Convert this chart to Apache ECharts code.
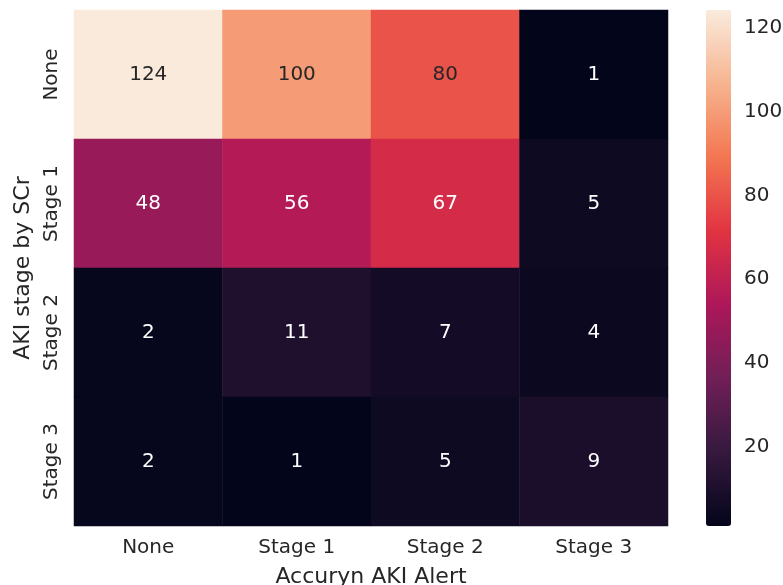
<!DOCTYPE html>
<html><head><meta charset="utf-8">
<script src="https://cdn.jsdelivr.net/npm/echarts@6/dist/echarts.min.js"></script>
<style>html,body{margin:0;padding:0;background:#fff}#c{width:783px;height:585px}</style>
</head><body><div id="c"></div>
<script>
const xCategories = ['None', 'Stage 1', 'Stage 2', 'Stage 3'];
const yCategories = ['None', 'Stage 1', 'Stage 2', 'Stage 3'];
const rowNone = [124, 100, 80, 1];
const rowStage1 = [48, 56, 67, 5];
const rowStage2 = [2, 11, 7, 4];
const rowStage3 = [2, 1, 5, 9];
const colorbarTicks = [20, 40, 60, 80, 100, 120];
const xTitle = 'Accuryn AKI Alert';
const yTitle = 'AKI stage by SCr';

const rows = [rowNone, rowStage1, rowStage2, rowStage3];
const data = [];
rows.forEach((r, yi) => r.forEach((v, xi) => data.push({
  value: [xi, yi, v],
  label: {color: v >= 75 ? '#262626' : '#ffffff'}
})));
const vmin = 1, vmax = 124.3;
const rocket = ['#03051a', '#35193e', '#701f57', '#ad1759', '#e13342', '#f37651', '#f6b48f', '#faebdd'];
const font = 'DejaVu Sans';
const fs = 20;
const tfs = 22;

const chart = echarts.init(document.getElementById('c'), null, {renderer: 'canvas'});
chart.setOption({
  backgroundColor: '#fff',
  animation: false,
  grid: [
    {left: 74, top: 10, right: 115, bottom: 59, outerBoundsMode: 'none', containLabel: false},
    {left: 706, top: 10, width: 25, height: 516, outerBoundsMode: 'none', containLabel: false}
  ],
  xAxis: [
    {type: 'category', data: xCategories, gridIndex: 0,
     axisLine: {show: false}, axisTick: {show: false}, splitLine: {show: false},
     axisLabel: {fontFamily: font, fontSize: fs, color: '#262626', margin: 12},
     name: xTitle, nameLocation: 'middle', nameGap: 40,
     nameTextStyle: {fontFamily: font, fontSize: tfs, color: '#262626'}},
    {type: 'value', gridIndex: 1, show: false}
  ],
  yAxis: [
    {type: 'category', data: yCategories, gridIndex: 0, inverse: true,
     axisLine: {show: false}, axisTick: {show: false}, splitLine: {show: false},
     axisLabel: {fontFamily: font, fontSize: fs, color: '#262626', rotate: 90, margin: 12},
     name: yTitle, nameLocation: 'middle', nameGap: 39,
     nameTextStyle: {fontFamily: font, fontSize: tfs, color: '#262626'}},
    {type: 'value', gridIndex: 1, position: 'right', min: vmin, max: vmax,
     axisLine: {show: false}, splitLine: {show: false},
     axisTick: {show: true, length: 6, customValues: colorbarTicks, lineStyle: {color: '#262626', width: 1.2}},
     axisLabel: {fontFamily: font, fontSize: fs, color: '#262626', margin: 13, customValues: colorbarTicks}}
  ],
  visualMap: {
    type: 'continuous', min: vmin, max: vmax, seriesIndex: 0,
    calculable: false, orient: 'vertical', left: 706, top: 10,
    itemWidth: 25, itemHeight: 516, padding: 0, text: null, showLabel: false,
    inRange: {color: rocket}
  },
  series: [{
    type: 'heatmap', xAxisIndex: 0, yAxisIndex: 0, data: data,
    label: {show: true, fontFamily: font, fontSize: fs,
      formatter: p => String(p.value[2])},
    itemStyle: {borderWidth: 0},
    emphasis: {disabled: true}
  }]
});
</script></body></html>
